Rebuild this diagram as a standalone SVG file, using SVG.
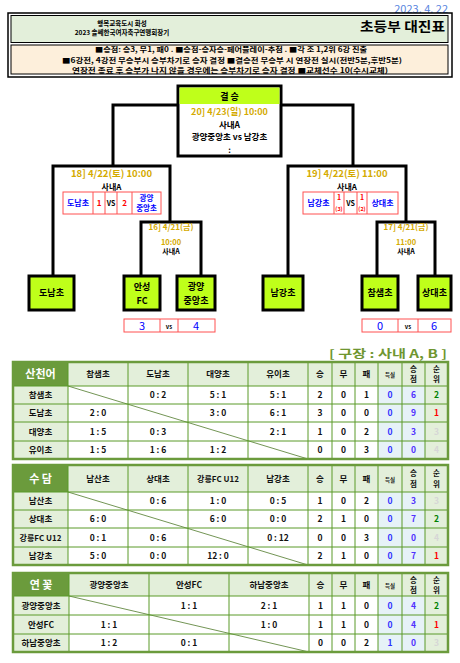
<svg xmlns="http://www.w3.org/2000/svg" width="460" height="663" viewBox="0 0 460 663">
<style>
text{font-family:"Noto Sans CJK KR","Noto Sans",sans-serif;font-weight:700}
.c{text-anchor:middle}
.br{fill:none;stroke:#000;stroke-width:3}
.team{fill:#bfff1a;stroke:#000;stroke-width:3}
.gold{fill:#d4aa00}
.blue{fill:#0000ff}
.red{fill:#ff0000}
.sc{fill:#fff;stroke:#ff5050;stroke-width:1}
.t{font-size:8.5px;fill:#111}
.hs{font-size:7.5px}
.th{font-size:11px;fill:#fff}
.dk{fill:#6b9b3c}
.lg{fill:#e3efda}
.lb{fill:#e6f2f7}
.gl{stroke:#5a9a28;stroke-width:1;fill:none}
.ob{stroke:#6b9b3c;stroke-width:2.5;fill:none}
.dg{stroke:#4f7a2a;stroke-width:0.8}
.b1{fill:#3030ff}
.b2{fill:#5030ff}
.r1{fill:#ff0000}
.r2{fill:#008000}
.r3{fill:#d6d6d6}
</style>

<!-- Header -->
<g id="header">
  <text x="448" y="13" font-size="11" fill="#5a86e0" text-anchor="end" style="font-weight:400">2023. 4. 22</text>
  <rect x="8" y="13" width="444" height="64" fill="#fff" stroke="#000" stroke-width="1.5"/>
  <rect x="11" y="15.5" width="437" height="27" fill="#e3efda" stroke="#000" stroke-width="1"/>
  <rect x="11" y="45" width="437" height="29" fill="#fdefdb" stroke="#000" stroke-width="1"/>
  <text x="122" y="26" class="c" font-size="6.5">행복교육도시 화성</text>
  <text x="122" y="35" class="c" font-size="6.5">2023 솔쎄한국여자축구연맹회장기</text>
  <text x="445" y="31" text-anchor="end" font-size="13" textLength="85" lengthAdjust="spacingAndGlyphs">초등부  대진표</text>
  <text x="95" y="52" font-size="7" textLength="272" lengthAdjust="spacingAndGlyphs">■승점: 승3, 무1, 패0 .  ■승점-승자승-페어플레이-추첨 .  ■각 조 1,2위 6강 진출</text>
  <text x="62" y="63" font-size="7" textLength="340" lengthAdjust="spacingAndGlyphs">■6강전, 4강전 무승부시 승부차기로 승자 결정  ■결승전 무승부 시 연장전 실시(전반5분,후반5분)</text>
  <text x="72" y="73" font-size="7" textLength="316" lengthAdjust="spacingAndGlyphs">연장전 종료 후 승부가 나지 않을 경우에는 승부차기로 승자 결정  ■교체선수 10(수시교체)</text>
</g>

<!-- Connectors / bracket lines -->
<g id="connectors">
  <polyline class="br" points="178,105 113,105 113,166"/>
  <polyline class="br" points="281,105 353,105 353,166"/>
  <polyline class="br" points="53,276 53,166 170,166 170,222"/>
  <polyline class="br" points="141,276 141,222 201,222 201,276"/>
  <polyline class="br" points="288,276 288,166 406,166 406,222"/>
  <polyline class="br" points="377,276 377,222 435,222 435,276"/>
</g>

<!-- Final -->
<g id="final">
  <rect x="178" y="86" width="103" height="70" fill="#fff" stroke="#000" stroke-width="3"/>
  <rect x="179.5" y="87.5" width="100" height="16.5" fill="#bfff1a"/>
  <text x="229.5" y="100" class="c" font-size="9">결 승</text>
  <text x="229.5" y="115" class="c gold" font-size="9">20] 4/23(일) 10:00</text>
  <text x="229.5" y="127.5" class="c" font-size="8.5">사내A</text>
  <text x="229.5" y="140" class="c" font-size="8.5">광양중앙초 vs 남강초</text>
  <text x="229.5" y="153" class="c" font-size="8">:</text>
</g>

<!-- Match 18 -->
<g id="m18">
  <text x="111.5" y="177" class="c gold" font-size="9.5">18] 4/22(토) 10:00</text>
  <text x="111.5" y="189.5" class="c" font-size="8">사내A</text>
  <rect class="sc" x="63" y="192" width="98" height="22"/>
  <path d="M93,192V214M105,192V214M117,192V214M132,192V214" stroke="#ff5050" stroke-width="1"/>
  <text x="78" y="206" class="c blue" font-size="8">도남초</text>
  <text x="99" y="206" class="c red" font-size="8">1</text>
  <text x="111" y="206" class="c" font-size="7">VS</text>
  <text x="124.5" y="206" class="c red" font-size="8">2</text>
  <text x="146.5" y="200.5" class="c blue" font-size="7.5">광양</text>
  <text x="146.5" y="211" class="c blue" font-size="7.5">중앙초</text>
</g>

<!-- Match 16 -->
<g id="m16">
  <text x="171" y="230" class="c gold" font-size="8">16] 4/21(금)</text>
  <text x="171" y="245" class="c gold" font-size="7.5">10:00</text>
  <text x="171" y="254" class="c" font-size="7">사내A</text>
</g>

<!-- Match 19 -->
<g id="m19">
  <text x="347" y="177" class="c gold" font-size="9.5">19] 4/22(토) 11:00</text>
  <text x="347" y="189.5" class="c" font-size="8">사내A</text>
  <rect class="sc" x="303" y="192" width="95" height="22"/>
  <path d="M334,192V214M344,192V214M357,192V214M367,192V214" stroke="#ff5050" stroke-width="1"/>
  <text x="318.5" y="206" class="c blue" font-size="8">남강초</text>
  <text x="339" y="199.5" class="c red" font-size="7">1</text>
  <text x="339" y="211" class="c red" font-size="5.5">(3)</text>
  <text x="350.5" y="206" class="c" font-size="7">VS</text>
  <text x="362" y="199.5" class="c red" font-size="7">1</text>
  <text x="362" y="211" class="c red" font-size="5.5">(2)</text>
  <text x="382.5" y="206" class="c blue" font-size="8">상대초</text>
</g>

<!-- Match 17 -->
<g id="m17">
  <text x="406" y="230" class="c gold" font-size="8">17] 4/21(금)</text>
  <text x="406" y="245" class="c gold" font-size="7.5">11:00</text>
  <text x="406" y="254" class="c" font-size="7">사내A</text>
</g>

<!-- Teams -->
<g id="t-donam"><rect class="team" x="29" y="276" width="45" height="34"/><text x="51.5" y="296" class="c" font-size="9">도남초</text></g>
<g id="t-anseong"><rect class="team" x="124" y="276" width="36" height="34"/><text x="142" y="290" class="c" font-size="9">안성</text><text x="142" y="304" class="c" font-size="9">FC</text></g>
<g id="t-gwangyang"><rect class="team" x="177" y="276" width="38" height="34"/><text x="196" y="290" class="c" font-size="9">광양</text><text x="196" y="304" class="c" font-size="9">중앙초</text></g>
<g id="t-namgang"><rect class="team" x="263" y="276" width="40" height="34"/><text x="283" y="296" class="c" font-size="9">남강초</text></g>
<g id="t-chamsaem"><rect class="team" x="362" y="276" width="36" height="34"/><text x="380" y="296" class="c" font-size="9">참샘초</text></g>
<g id="t-sangdae"><rect class="team" x="418" y="276" width="33" height="34"/><text x="434.5" y="296" class="c" font-size="9">상대초</text></g>

<g id="score16">
  <rect class="sc" x="124" y="319" width="91" height="13"/>
  <path d="M160,319V332M178,319V332" stroke="#ff5050" stroke-width="1"/>
  <text x="142" y="330" class="c blue" font-size="11" style="font-weight:400">3</text>
  <text x="169" y="329" class="c" font-size="6">vs</text>
  <text x="196" y="330" class="c blue" font-size="11" style="font-weight:400">4</text>
</g>
<g id="score17">
  <rect class="sc" x="362" y="319" width="89" height="13"/>
  <path d="M398,319V332M418,319V332" stroke="#ff5050" stroke-width="1"/>
  <text x="380" y="330" class="c blue" font-size="11" style="font-weight:400">0</text>
  <text x="408" y="329" class="c" font-size="6">vs</text>
  <text x="434" y="330" class="c blue" font-size="11" style="font-weight:400">6</text>
</g>

<text x="447" y="358" text-anchor="end" font-size="11" fill="#6f9630" textLength="118" lengthAdjust="spacingAndGlyphs">[ 구장 : 사내 A, B ]</text>

<!-- Table 1 -->
<g id="table-sancheoneo">
  <rect class="lg" x="13" y="362" width="435" height="97"/>
  <rect class="dk" x="13" y="362" width="55" height="24"/>
  <rect fill="#fff" x="68" y="386" width="310" height="73"/>
  <rect class="lb" x="378" y="386" width="47" height="73"/>
  <line class="dg" x1="68" y1="386" x2="308" y2="459"/>
  <path class="gl" d="M68,362V459M128,362V459M188,362V459M248,362V459M308,362V459M332,362V459M355,362V459M378,362V459M402,362V459M425,362V459M13,386H448M13,404H448M13,422H448M13,441H448"/>
  <rect class="ob" x="13" y="362" width="435" height="97"/>
  <text class="th c" x="40.5" y="378">산천어</text>
  <g class="t">
    <text class="c" x="98" y="377">참샘초</text><text class="c" x="158" y="377">도남초</text><text class="c" x="218" y="377">대양초</text><text class="c" x="278" y="377">유이초</text>
    <text class="c" x="320" y="377">승</text><text class="c" x="343.5" y="377">무</text><text class="c" x="366.5" y="377">패</text><text class="c" x="390" y="377" font-size="5.5">득실</text>
    <text class="c hs" x="413.5" y="372">승</text><text class="c hs" x="413.5" y="382">점</text><text class="c hs" x="436.5" y="372">순</text><text class="c hs" x="436.5" y="382">위</text>
    <text class="c" x="40.5" y="398">참샘초</text><text class="c" x="40.5" y="416">도남초</text><text class="c" x="40.5" y="434.5">대양초</text><text class="c" x="40.5" y="453">유이초</text>
    <text class="c" x="158" y="398">0 : 2</text><text class="c" x="218" y="398">5 : 1</text><text class="c" x="278" y="398">5 : 1</text>
    <text class="c" x="98" y="416">2 : 0</text><text class="c" x="218" y="416">3 : 0</text><text class="c" x="278" y="416">6 : 1</text>
    <text class="c" x="98" y="434.5">1 : 5</text><text class="c" x="158" y="434.5">0 : 3</text><text class="c" x="278" y="434.5">2 : 1</text>
    <text class="c" x="98" y="453">1 : 5</text><text class="c" x="158" y="453">1 : 6</text><text class="c" x="218" y="453">1 : 2</text>
    <text class="c" x="320" y="398">2</text><text class="c" x="343.5" y="398">0</text><text class="c" x="366.5" y="398">1</text>
    <text class="c" x="320" y="416">3</text><text class="c" x="343.5" y="416">0</text><text class="c" x="366.5" y="416">0</text>
    <text class="c" x="320" y="434.5">1</text><text class="c" x="343.5" y="434.5">0</text><text class="c" x="366.5" y="434.5">2</text>
    <text class="c" x="320" y="453">0</text><text class="c" x="343.5" y="453">0</text><text class="c" x="366.5" y="453">3</text>
    <text class="c b1" x="390" y="398">0</text><text class="c b1" x="390" y="416">0</text><text class="c b1" x="390" y="434.5">0</text><text class="c b1" x="390" y="453">0</text>
    <text class="c b2" x="413.5" y="398">6</text><text class="c b2" x="413.5" y="416">9</text><text class="c b2" x="413.5" y="434.5">3</text><text class="c b2" x="413.5" y="453">0</text>
    <text class="c r2" x="436.5" y="398">2</text><text class="c r1" x="436.5" y="416">1</text><text class="c r3" x="436.5" y="434.5">3</text><text class="c r3" x="436.5" y="453">4</text>
  </g>
</g>

<!-- Table 2 -->
<g id="table-sudam">
  <rect class="lg" x="13" y="465" width="435" height="100"/>
  <rect class="dk" x="13" y="465" width="55" height="27"/>
  <rect fill="#fff" x="68" y="492" width="310" height="73"/>
  <rect class="lb" x="378" y="492" width="47" height="73"/>
  <line class="dg" x1="68" y1="492" x2="308" y2="565"/>
  <path class="gl" d="M68,465V565M128,465V565M188,465V565M248,465V565M308,465V565M332,465V565M355,465V565M378,465V565M402,465V565M425,465V565M13,492H448M13,510H448M13,528H448M13,547H448"/>
  <rect class="ob" x="13" y="465" width="435" height="100"/>
  <text class="th c" x="40.5" y="482.5">수 담</text>
  <g class="t">
    <text class="c" x="98" y="481.5">남산초</text><text class="c" x="158" y="481.5">상대초</text><text class="c" x="218" y="481.5" font-size="8">강릉FC U12</text><text class="c" x="278" y="481.5">남강초</text>
    <text class="c" x="320" y="481.5">승</text><text class="c" x="343.5" y="481.5">무</text><text class="c" x="366.5" y="481.5">패</text><text class="c" x="390" y="481.5" font-size="5.5">득실</text>
    <text class="c hs" x="413.5" y="476">승</text><text class="c hs" x="413.5" y="486.5">점</text><text class="c hs" x="436.5" y="476">순</text><text class="c hs" x="436.5" y="486.5">위</text>
    <text class="c" x="40.5" y="504">남산초</text><text class="c" x="40.5" y="522">상대초</text><text class="c" x="40.5" y="540.5" font-size="8">강릉FC U12</text><text class="c" x="40.5" y="559">남강초</text>
    <text class="c" x="158" y="504">0 : 6</text><text class="c" x="218" y="504">1 : 0</text><text class="c" x="278" y="504">0 : 5</text>
    <text class="c" x="98" y="522">6 : 0</text><text class="c" x="218" y="522">6 : 0</text><text class="c" x="278" y="522">0 : 0</text>
    <text class="c" x="98" y="540.5">0 : 1</text><text class="c" x="158" y="540.5">0 : 6</text><text class="c" x="278" y="540.5">0 : 12</text>
    <text class="c" x="98" y="559">5 : 0</text><text class="c" x="158" y="559">0 : 0</text><text class="c" x="218" y="559">12 : 0</text>
    <text class="c" x="320" y="504">1</text><text class="c" x="343.5" y="504">0</text><text class="c" x="366.5" y="504">2</text>
    <text class="c" x="320" y="522">2</text><text class="c" x="343.5" y="522">1</text><text class="c" x="366.5" y="522">0</text>
    <text class="c" x="320" y="540.5">0</text><text class="c" x="343.5" y="540.5">0</text><text class="c" x="366.5" y="540.5">3</text>
    <text class="c" x="320" y="559">2</text><text class="c" x="343.5" y="559">1</text><text class="c" x="366.5" y="559">0</text>
    <text class="c b1" x="390" y="504">0</text><text class="c b1" x="390" y="522">0</text><text class="c b1" x="390" y="540.5">0</text><text class="c b1" x="390" y="559">0</text>
    <text class="c b2" x="413.5" y="504">3</text><text class="c b2" x="413.5" y="522">7</text><text class="c b2" x="413.5" y="540.5">0</text><text class="c b2" x="413.5" y="559">7</text>
    <text class="c r3" x="436.5" y="504">3</text><text class="c r2" x="436.5" y="522">2</text><text class="c r3" x="436.5" y="540.5">4</text><text class="c r1" x="436.5" y="559">1</text>
  </g>
</g>

<!-- Table 3 -->
<g id="table-yeonkkot">
  <rect class="lg" x="13" y="573" width="435" height="79"/>
  <rect class="dk" x="13" y="573" width="56" height="23"/>
  <rect fill="#fff" x="69" y="596" width="309" height="56"/>
  <rect class="lb" x="378" y="596" width="47" height="56"/>
  <line class="dg" x1="69" y1="596" x2="309" y2="652"/>
  <path class="gl" d="M69,573V652M149,573V652M229,573V652M309,573V652M332,573V652M355,573V652M378,573V652M402,573V652M425,573V652M13,596H448M13,615H448M13,634H448"/>
  <rect class="ob" x="13" y="573" width="435" height="79"/>
  <text class="th c" x="41" y="589">연  꽃</text>
  <g class="t">
    <text class="c" x="109" y="588">광양중앙초</text><text class="c" x="189" y="588">안성FC</text><text class="c" x="269" y="588">하남중앙초</text>
    <text class="c" x="320.5" y="588">승</text><text class="c" x="343.5" y="588">무</text><text class="c" x="366.5" y="588">패</text><text class="c" x="390" y="588" font-size="5.5">득실</text>
    <text class="c hs" x="413.5" y="582.5">승</text><text class="c hs" x="413.5" y="592.5">점</text><text class="c hs" x="436.5" y="582.5">순</text><text class="c hs" x="436.5" y="592.5">위</text>
    <text class="c" x="41" y="608.5">광양중앙초</text><text class="c" x="41" y="627.5">안성FC</text><text class="c" x="41" y="646">하남중앙초</text>
    <text class="c" x="189" y="608.5">1 : 1</text><text class="c" x="269" y="608.5">2 : 1</text>
    <text class="c" x="109" y="627.5">1 : 1</text><text class="c" x="269" y="627.5">1 : 0</text>
    <text class="c" x="109" y="646">1 : 2</text><text class="c" x="189" y="646">0 : 1</text>
    <text class="c" x="320.5" y="608.5">1</text><text class="c" x="343.5" y="608.5">1</text><text class="c" x="366.5" y="608.5">0</text>
    <text class="c" x="320.5" y="627.5">1</text><text class="c" x="343.5" y="627.5">1</text><text class="c" x="366.5" y="627.5">0</text>
    <text class="c" x="320.5" y="646">0</text><text class="c" x="343.5" y="646">0</text><text class="c" x="366.5" y="646">2</text>
    <text class="c b1" x="390" y="608.5">0</text><text class="c b1" x="390" y="627.5">0</text><text class="c b1" x="390" y="646">1</text>
    <text class="c b2" x="413.5" y="608.5">4</text><text class="c b2" x="413.5" y="627.5">4</text><text class="c b2" x="413.5" y="646">0</text>
    <text class="c r2" x="436.5" y="608.5">2</text><text class="c r1" x="436.5" y="627.5">1</text><text class="c r3" x="436.5" y="646">3</text>
  </g>
</g>
</svg>
